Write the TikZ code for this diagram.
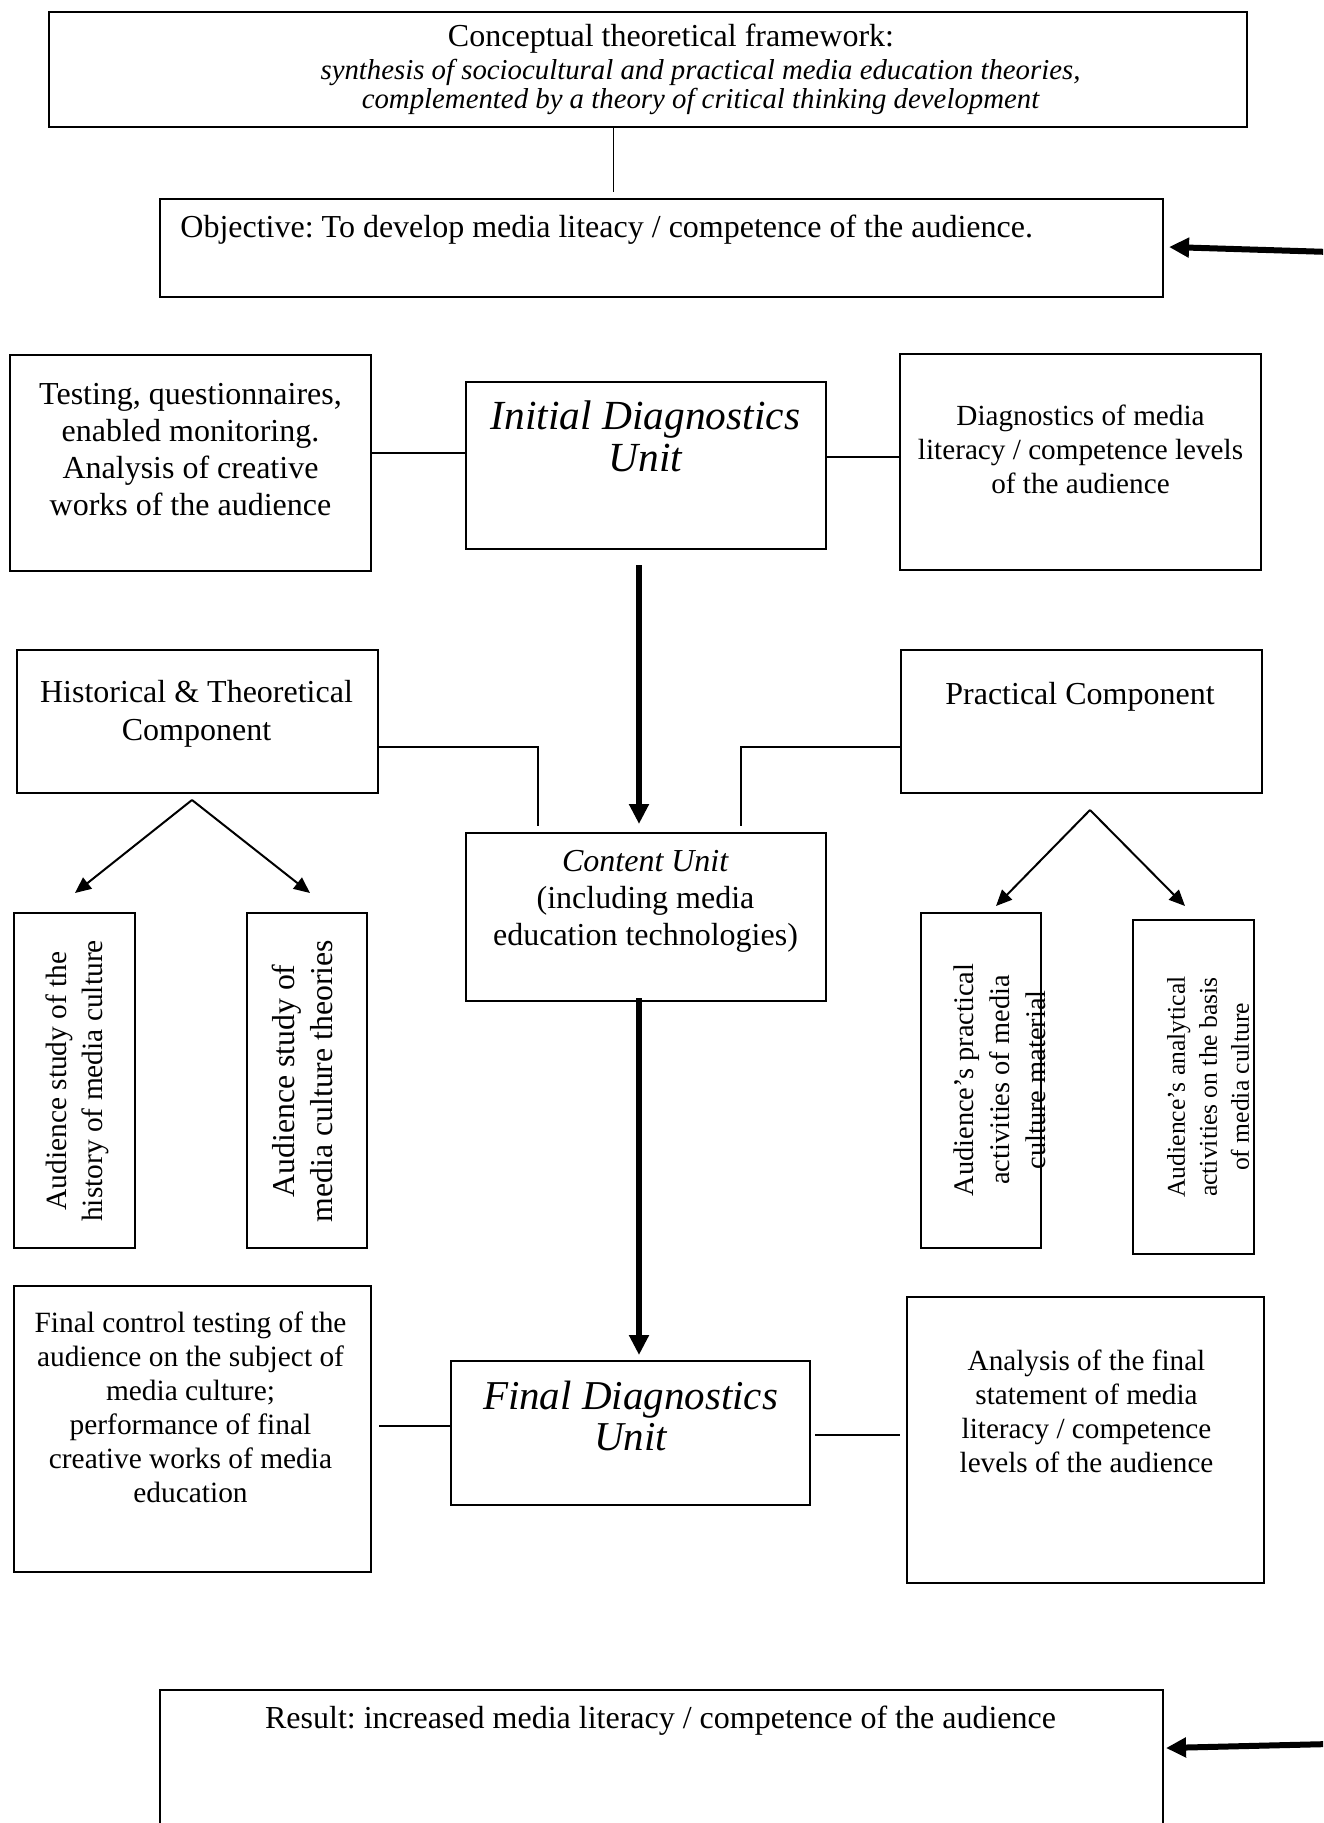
\documentclass[tikz,border=0pt]{standalone}
\usepackage{fontspec}
\setmainfont{Liberation Serif}
\usetikzlibrary{arrows.meta,calc}
\newcommand\myfs[2]{\fontsize{#1pt}{#2pt}\selectfont}
\frenchspacing
\begin{document}
\begin{tikzpicture}[x=0.5pt,y=-0.5pt,
  box/.style={draw, line width=1pt, inner sep=0pt},
  txt/.style={align=center, inner sep=0pt},
  link/.style={line width=0.8pt},
  thinlink/.style={line width=0.5pt},
  bigarrow/.style={line width=3pt, -{Triangle[length=10pt,width=9.5pt]}},
  branch/.style={line width=1pt, -{Triangle[length=8pt,width=7pt]}}]
\fill[white] (0,0) rectangle (1323,1823);
\useasboundingbox (0,0) rectangle (1323,1823);
\clip (0,0) rectangle (1323,1823);

% boxes
\node[box, minimum width=599pt, minimum height=57.5pt, txt] (frame) at (648,69.5)
  {\myfs{16}{16}\hspace*{23pt}Conceptual theoretical framework:\\[2pt]
   \myfs{14.4}{16.5}\itshape\hspace*{52.5pt}synthesis of sociocultural and practical media education theories,\\
   \myfs{14.4}{16.5}\itshape\hspace*{52.5pt}complemented by a theory of critical thinking development};
\node[box, minimum width=501.5pt, minimum height=49pt] (obj) at (661.5,248) {};
\node[box, minimum width=180.5pt, minimum height=108pt] (test) at (190.5,463) {};
\node[box, minimum width=180pt, minimum height=83.5pt] (init) at (646,465.5) {};
\node[box, minimum width=180.5pt, minimum height=108pt] (diag) at (1080.5,462) {};
\node[box, minimum width=180.5pt, minimum height=71.5pt] (hist) at (197.5,721.5) {};
\node[box, minimum width=180.5pt, minimum height=71.5pt] (prac) at (1081.5,721.5) {};
\node[box, minimum width=180pt, minimum height=84pt] (content) at (646,917) {};
\node[box, minimum width=60.5pt, minimum height=167.5pt] (A) at (74.5,1080.5) {};
\node[box, minimum width=60pt, minimum height=167.5pt] (B) at (307,1080.5) {};
\node[box, minimum width=60pt, minimum height=167.5pt] (C) at (981,1080.5) {};
\node[box, minimum width=60.5pt, minimum height=167pt] (D) at (1193.5,1087) {};
\node[box, minimum width=178.5pt, minimum height=143pt] (finctl) at (192.5,1429) {};
\node[box, minimum width=179.5pt, minimum height=72pt] (final) at (630.5,1433) {};
\node[box, minimum width=178.5pt, minimum height=143pt] (finan) at (1085.5,1440) {};
\node[box, minimum width=501.5pt, minimum height=100pt] (result) at (661.5,1790) {};

% texts
\node[txt, anchor=west, font=\myfs{16}{18.5}] (objtext) at (180,230)
  {Objective: To develop media liteacy / competence of the audience.};
\node[txt, font=\myfs{16}{18.5}] (testtxt) at (190.5,450)
  {Testing, questionnaires,\\enabled monitoring.\\Analysis of creative\\works of the audience};
\node[txt, font=\myfs{20.7}{21}\itshape] (inittxt) at (645.5,436)
  {Initial Diagnostics\\Unit};
\node[txt, font=\myfs{14.6}{17}] (diagtxt) at (1080.5,449)
  {Diagnostics of media\\literacy / competence levels\\of the audience};
\node[txt, font=\myfs{16}{19}] (histtxt) at (196.5,714)
  {Historical \& Theoretical\\Component};
\node[txt, font=\myfs{16}{19}] (practxt) at (1080,697)
  {Practical Component};
\node[txt, font=\myfs{16}{18.5}] (conttxt) at (645.5,901.5)
  {\textit{Content Unit}\\(including media\\education technologies)};
\node[txt, rotate=90, font=\myfs{14.7}{18}] (Atxt) at (77,1081)
  {Audience study of the\\history of media culture};
\node[txt, rotate=90, font=\myfs{15.9}{19}] (Btxt) at (302,1081)
  {Audience study of\\media culture theories};
\node[txt, rotate=90, font=\myfs{14.2}{18}] (Ctxt) at (1000,1080)
  {Audience's practical\\activities of media\\culture material};
\node[txt, rotate=90, font=\myfs{12.8}{16}] (Dtxt) at (1208,1087)
  {Audience's analytical\\activities on the basis\\of media culture};
\node[txt, font=\myfs{14.7}{17}] (finctltxt) at (190.5,1407)
  {Final control testing of the\\audience on the subject of\\media culture;\\performance of final\\creative works of media\\education};
\node[txt, font=\myfs{20.5}{20.5}\itshape] (finaltxt) at (630.5,1415.5)
  {Final Diagnostics\\Unit};
\node[txt, font=\myfs{14.6}{17}] (finantxt) at (1086.5,1411)
  {Analysis of the final\\statement of media\\literacy / competence\\levels of the audience};
\node[txt, font=\myfs{16}{18.5}] (resulttxt) at (660.5,1721)
  {Result: increased media literacy / competence of the audience};

% connectors
\coordinate (xc) at (613,0);
\draw[thinlink] (frame.south -| xc) -- ([yshift=3pt]obj.north -| xc);
\coordinate (objin) at (1330,252);
\draw[bigarrow] (objin) -- ($(obj.east)+(5,-1)$);

\draw[link] ([yshift=5pt]test.east) -- ([yshift=5pt]test.east -| init.west);
\draw[link] ([yshift=4.25pt]init.east) -- ([yshift=4.25pt]init.east -| diag.west);

\draw[bigarrow] ($(init.south)+(-7,15)$) -- ($(content.north)+(-7,-8)$);

\draw[link] ([yshift=-12.75pt]hist.east) -| ($(content.north)+(-108,-6)$);
\draw[link] ([yshift=-12.75pt]prac.west) -| ($(content.north)+(95,-6)$);

\coordinate (happ) at ($(hist.south)+(-5.5,6)$);
\draw[branch] (happ) -- ($(A.north)+(0.5,-19)$);
\draw[branch] (happ) -- ($(B.north)+(3,-19)$);
\coordinate (papp) at ($(prac.south)+(8.5,16)$);
\draw[branch] (papp) -- ($(C.north)+(15,-6)$);
\draw[branch] (papp) -- ($(D.north)+(-8.5,-13)$);

\draw[bigarrow] ($(content.south)+(-7,-4)$) -- ($(final.north)+(8.5,-5)$);

\draw[link] ($(finctl.east)+(7,-3)$) coordinate (p1) -- (p1 -| final.west);
\coordinate (q2) at ($(finan.west)+(-6,0)$);
\draw[link] ($(final.east)+(4,2)$) coordinate (p2) -- (p2 -| q2);

\coordinate (resin) at (1330,1744);
\draw[bigarrow] (resin) -- ($(result.north east)+(2,59)$);
\end{tikzpicture}
\end{document}
